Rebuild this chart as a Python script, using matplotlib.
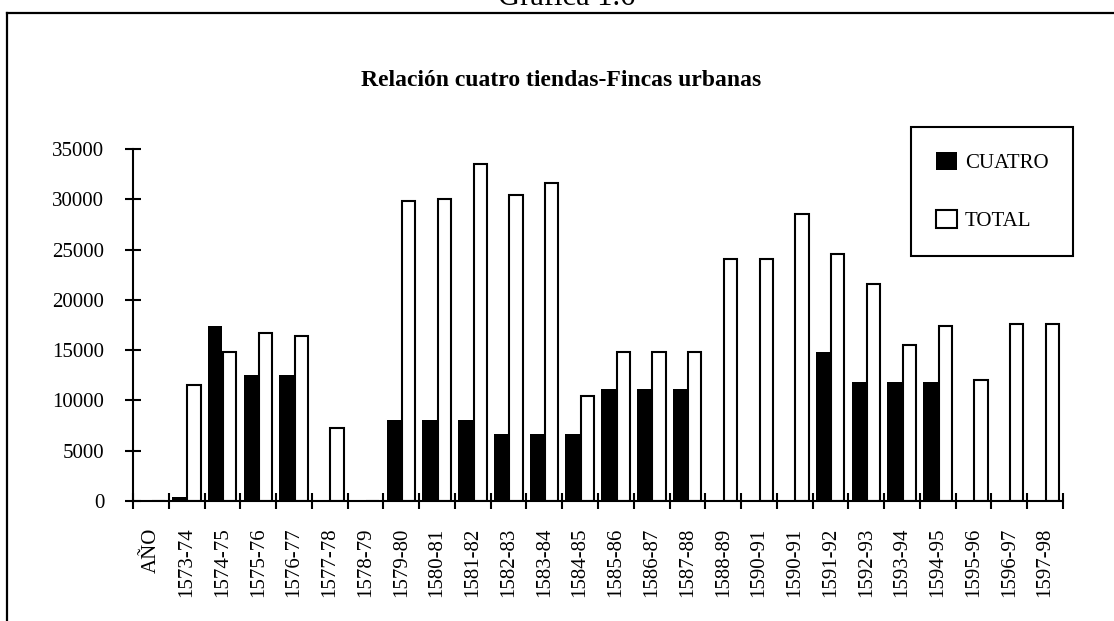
import numpy as np
import matplotlib
matplotlib.use("Agg")
import matplotlib.pyplot as plt
from matplotlib.lines import Line2D

plt.rcParams['font.family'] = ['Liberation Serif', 'DejaVu Serif']

categories = ["AÑO", "1573-74", "1574-75", "1575-76", "1576-77", "1577-78",
              "1578-79", "1579-80", "1580-81", "1581-82", "1582-83", "1583-84",
              "1584-85", "1585-86", "1586-87", "1587-88", "1588-89", "1590-91",
              "1590-91", "1591-92", "1592-93", "1593-94", "1594-95", "1595-96",
              "1596-97", "1597-98"]
cuatro = [100, 400, 17400, 12500, 12500, 0, 0, 8100, 8100, 8100, 6700, 6700,
          6700, 11100, 11100, 11100, 0, 0, 0, 14800, 11800, 11800, 11800, 0, 0, 0]
total = [0, 11500, 14800, 16700, 16400, 7300, 0, 29800, 30000, 33500, 30400,
         31600, 10400, 14800, 14800, 14800, 24100, 24100, 28500, 24600, 21600,
         15500, 17400, 12000, 17600, 17600]
y_ticks = [0, 5000, 10000, 15000, 20000, 25000, 30000, 35000]

W, H = 1114, 621
fig = plt.figure(figsize=(W / 100, H / 100), dpi=100)
ax = fig.add_axes([133 / W, 1 - 501 / H, (1063 - 133) / W, (501 - 149) / H])

x = np.arange(len(categories))
bw = 0.41
ax.bar(x - bw / 2, cuatro, width=bw, color="black", edgecolor="none",
       linewidth=0, label="CUATRO", zorder=2)
ax.bar(x + bw / 2, total, width=bw * 0.9, color="white", edgecolor="black",
       linewidth=1.5, label="TOTAL", zorder=2)

ax.set_xlim(-0.5, len(categories) - 0.5)
ax.set_ylim(0, 35000)

for s in ["top", "right"]:
    ax.spines[s].set_visible(False)
for s in ["left", "bottom"]:
    ax.spines[s].set_linewidth(1.5)
    ax.spines[s].set_zorder(3)

ax.set_yticks(y_ticks)
ax.set_yticklabels([str(v) for v in y_ticks])
ax.tick_params(axis="y", direction="inout", length=11.5, width=1.5,
               labelsize=15, pad=15)

ax.set_xticks(np.arange(len(categories) + 1) - 0.5)
ax.set_xticklabels([])
ax.tick_params(axis="x", which="major", direction="inout", length=11.5,
               width=1.5)
ax.set_xticks(x, minor=True)
ax.set_xticklabels(categories, minor=True, rotation=90, fontsize=15,
                   va="top", ha="center")
ax.tick_params(axis="x", which="minor", length=0, pad=19)

leg = ax.legend(loc="upper left", bbox_to_anchor=(910.7 / W, 1 - 126.7 / H),
                bbox_transform=fig.transFigure, fontsize=15,
                frameon=True, fancybox=False, edgecolor="black", framealpha=1,
                handlelength=1.0, handleheight=1.0, handletextpad=0.4,
                labelspacing=1.75, borderpad=1.2, borderaxespad=0)
leg.get_frame().set_linewidth(1.5)

fig.text(561 / W, 1 - 86 / H, "Relación cuatro tiendas-Fincas urbanas",
         ha="center", va="baseline", fontsize=17, fontweight="bold")
fig.text(567 / W, 1 - 5 / H, "Gráfica 1.6", ha="center", va="baseline",
         fontsize=22)

# outer frame (top and left edges)
fig.add_artist(Line2D([7 / W, 1.01], [1 - 13 / H, 1 - 13 / H],
                      transform=fig.transFigure, color="black", linewidth=1.6))
fig.add_artist(Line2D([7 / W, 7 / W], [1 - 13 / H, -0.01],
                      transform=fig.transFigure, color="black", linewidth=1.6))

fig.savefig("out.png", dpi=100)
